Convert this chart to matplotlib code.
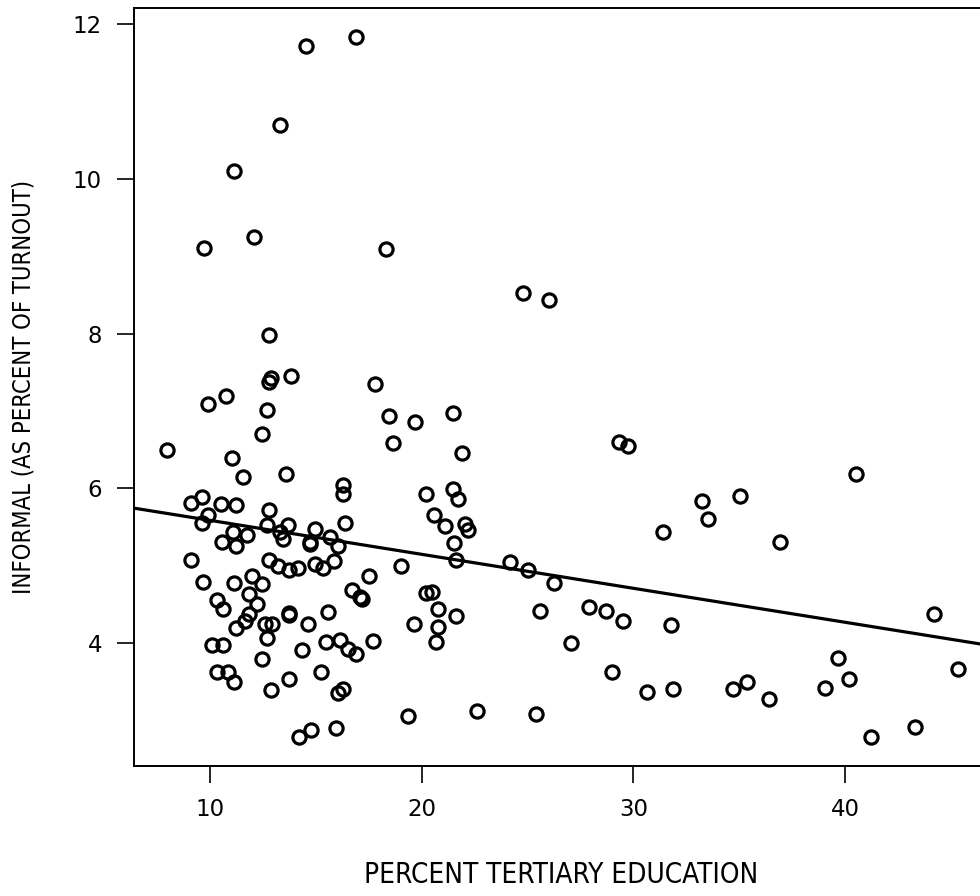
import numpy as np
import matplotlib.pyplot as plt

# percent tertiary education (x) and informal vote share (y)
tertiary = [
    14.53, 16.88, 13.31, 11.15, 9.70, 12.06, 18.31, 24.80, 26.03,
    12.79, 12.88, 12.79, 13.81, 17.81, 10.74, 9.91, 12.68, 18.44, 19.67,
    21.49, 12.47, 18.63, 7.95, 11.04, 11.56, 13.60, 16.27, 16.27, 20.19,
    21.49, 21.92, 21.71, 29.32, 29.73,
    9.10, 9.61, 10.52, 11.23, 12.79, 9.92, 9.61, 12.68, 13.70, 13.31,
    13.46, 11.07, 11.73, 10.55, 11.23, 9.10, 12.79, 13.20, 13.72, 14.14,
    14.96, 16.38, 15.67, 16.06, 14.72, 14.72, 14.96, 15.35, 15.87, 17.49,
    19.02, 20.60, 21.10, 22.05, 22.17, 21.51, 21.61, 24.17, 25.01, 26.24,
    31.38, 33.54, 33.23, 35.04, 36.91, 40.50,
    9.68, 11.15, 11.97, 12.47, 11.84, 12.20, 11.84, 11.65, 11.25, 12.60,
    12.91, 12.69, 10.32, 10.63, 10.08, 10.63, 12.47, 10.32, 10.84, 11.15,
    12.88, 13.71, 13.71, 14.64, 15.56, 14.33, 15.46, 16.14, 16.50, 16.91,
    17.71, 15.24, 13.72, 16.27, 16.06, 14.22, 14.76, 15.95, 19.37, 16.73,
    17.08, 17.20, 20.20, 20.47, 20.78, 19.65, 20.78, 20.68, 21.61, 22.63,
    25.41, 25.61, 27.89, 28.69, 29.51, 27.05, 31.77, 29.00, 30.66, 31.88,
    34.73, 35.37, 36.39, 39.06, 39.68, 40.20, 41.22, 43.29, 44.20, 45.32,
]
informal = [
    11.72, 11.84, 10.70, 10.10, 9.11, 9.25, 9.10, 8.53, 8.43,
    7.98, 7.42, 7.37, 7.45, 7.35, 7.20, 7.09, 7.01, 6.94, 6.86,
    6.97, 6.70, 6.58, 6.49, 6.39, 6.14, 6.18, 6.04, 5.93, 5.93,
    5.99, 6.46, 5.86, 6.60, 6.55,
    5.81, 5.89, 5.80, 5.78, 5.72, 5.65, 5.55, 5.53, 5.53, 5.44,
    5.35, 5.43, 5.40, 5.31, 5.25, 5.07, 5.07, 4.99, 4.94, 4.97,
    5.47, 5.55, 5.37, 5.26, 5.31, 5.28, 5.02, 4.97, 5.06, 4.87,
    5.00, 5.65, 5.51, 5.54, 5.46, 5.29, 5.07, 5.05, 4.95, 4.77,
    5.43, 5.60, 5.84, 5.90, 5.31, 6.19,
    4.79, 4.78, 4.87, 4.76, 4.63, 4.50, 4.37, 4.28, 4.19, 4.25,
    4.25, 4.06, 4.56, 4.44, 3.97, 3.97, 3.79, 3.63, 3.62, 3.50,
    3.39, 4.39, 4.36, 4.25, 4.40, 3.91, 4.01, 4.04, 3.92, 3.86,
    4.03, 3.63, 3.54, 3.41, 3.36, 2.78, 2.88, 2.90, 3.05, 4.68,
    4.60, 4.57, 4.65, 4.66, 4.44, 4.25, 4.21, 4.01, 4.35, 3.12,
    3.08, 4.42, 4.46, 4.42, 4.28, 4.00, 4.23, 3.62, 3.37, 3.41,
    3.41, 3.49, 3.28, 3.42, 3.81, 3.53, 2.78, 2.91, 4.37, 3.66,
]

x_ticks = [10, 20, 30, 40]
y_ticks = [4, 6, 8, 10, 12]

x = np.array(tertiary)
y = np.array(informal)
slope, intercept = np.polyfit(x, y, 1)

fig = plt.figure(figsize=(9.8, 8.96), dpi=100)
# box runs a little past the right edge of the figure, as in the original
ax = fig.add_axes([134 / 980, 130 / 896, 855 / 980, 758 / 896])

ax.plot(x, y, 'o', mfc='none', mec='black', ms=9.5, mew=2.3)

ax.set_xlim(6.41, 46.8)
ax.set_ylim(2.41, 12.21)
xs = np.array(ax.get_xlim())
ax.plot(xs, intercept + slope * xs, color='black', lw=2.3)

for sp in ax.spines.values():
    sp.set_linewidth(1.4)
    sp.set_color('black')

ax.set_xticks(x_ticks)
ax.set_yticks(y_ticks)
ax.tick_params(length=12, width=1.2, pad=11, labelsize=16.5, colors='black')

ax.set_xlabel('PERCENT TERTIARY EDUCATION', fontsize=20, fontstretch='condensed',
              labelpad=29)
ax.set_ylabel('INFORMAL (AS PERCENT OF TURNOUT)', fontsize=17, fontstretch='condensed',
              labelpad=27)

fig.savefig('out.png', dpi=100)
